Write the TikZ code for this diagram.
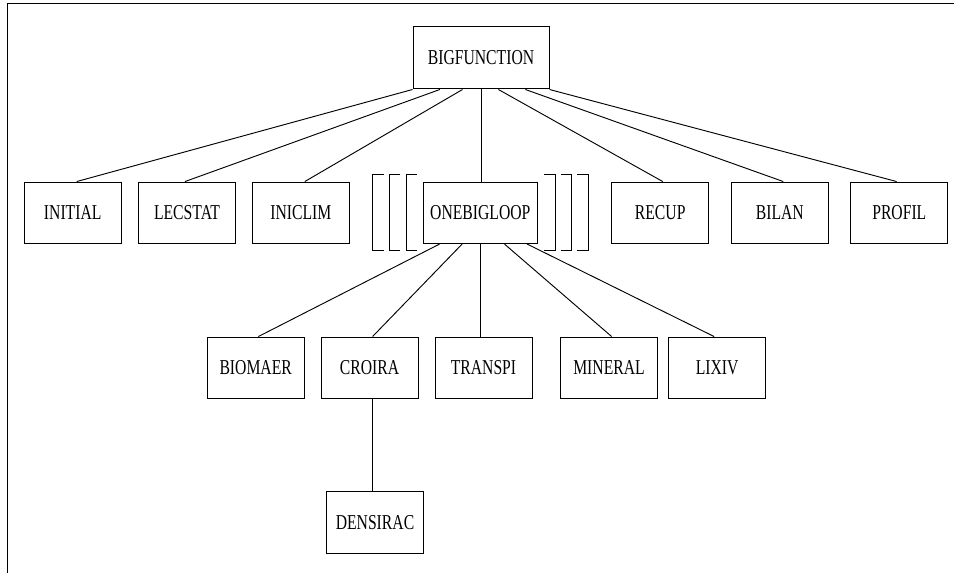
\documentclass[tikz,border=0pt]{standalone}
\usepackage{fontspec}
\newfontfamily\condserif[FakeStretch=0.74]{Liberation Serif}
\usetikzlibrary{calc}
\tikzset{
  box/.style={draw, line width=0.75pt, inner sep=0pt, minimum width=97*0.75pt, minimum height=61.5*0.75pt,
    font=\condserif\fontsize{15.9pt}{18pt}\selectfont},
  link/.style={line width=0.7pt},
  frameline/.style={line width=1.1pt},
  brk/.style={line width=0.75pt}
}
\begin{document}
\begin{tikzpicture}[x=0.75pt,y=-0.75pt]
\useasboundingbox (0,0) rectangle (954,573);
% frame
\draw[frameline] (954,3.5) -- (7.3,3.5) -- (7.3,573);
% nodes
\node[box, minimum width=136*0.75pt, minimum height=62*0.75pt] (BIG) at (481,58) {BIGFUNCTION};
\node[box] (INITIAL) at (72.7,212.8) {INITIAL};
\node[box] (LECSTAT) at (187,212.8) {LECSTAT};
\node[box] (INICLIM) at (300.8,212.8) {INICLIM};
\node[box, minimum width=114*0.75pt] (LOOP) at (480.3,212.8) {ONEBIGLOOP};
\node[box] (RECUP) at (660.2,212.8) {RECUP};
\node[box] (BILAN) at (779.8,212.8) {BILAN};
\node[box] (PROFIL) at (899.3,212.8) {PROFIL};
\node[box] (BIOMAER) at (255.7,367.8) {BIOMAER};
\node[box] (CROIRA) at (369.5,367.8) {CROIRA};
\node[box] (TRANSPI) at (483.5,367.8) {TRANSPI};
\node[box] (MINERAL) at (609,367.8) {MINERAL};
\node[box] (LIXIV) at (717.2,367.8) {LIXIV};
\node[box] (DENSIRAC) at (375,522.5) {DENSIRAC};
% loop brackets
\foreach \xx in {372.7,389.3,406}
  \draw[brk] (\xx+11,174.3) -- (\xx,174.3) -- (\xx,250.7) -- (\xx+11,250.7);
\foreach \xx in {555,571.7,588.3}
  \draw[brk] (\xx-11,174.3) -- (\xx,174.3) -- (\xx,250.7) -- (\xx-11,250.7);
% connectors from BIGFUNCTION
\draw[link] (BIG.south west) -- ([xshift=3pt]INITIAL.north);
\draw[link] ($(BIG.south west)!0.2!(BIG.south east)$) -- ([xshift=-1.5pt]LECSTAT.north);
\draw[link] ($(BIG.south west)!0.365!(BIG.south east)$) -- ([xshift=3pt]INICLIM.north);
\draw[link] (BIG.south) -- (BIG.south |- LOOP.north);
\draw[link] ($(BIG.south west)!0.627!(BIG.south east)$) -- ([xshift=1.9pt]RECUP.north);
\draw[link] ($(BIG.south west)!0.824!(BIG.south east)$) -- ([xshift=2.6pt]BILAN.north);
\draw[link] (BIG.south east) -- ([xshift=-2pt]PROFIL.north);
% connectors from ONEBIGLOOP
\draw[link] ($(LOOP.south west)!0.146!(LOOP.south east)$) -- ([xshift=2pt]BIOMAER.north);
\draw[link] ($(LOOP.south west)!0.342!(LOOP.south east)$) -- ([xshift=2.3pt]CROIRA.north);
\draw[link] (LOOP.south) -- (LOOP.south |- TRANSPI.north);
\draw[link] ($(LOOP.south west)!0.71!(LOOP.south east)$) -- ([xshift=2pt]MINERAL.north);
\draw[link] ($(LOOP.south west)!0.907!(LOOP.south east)$) -- ([xshift=-2.3pt]LIXIV.north);
% CROIRA to DENSIRAC
\draw[link] ([xshift=2.2pt]CROIRA.south) -- ([xshift=2.2pt]CROIRA.south |- DENSIRAC.north);
\end{tikzpicture}
\end{document}
